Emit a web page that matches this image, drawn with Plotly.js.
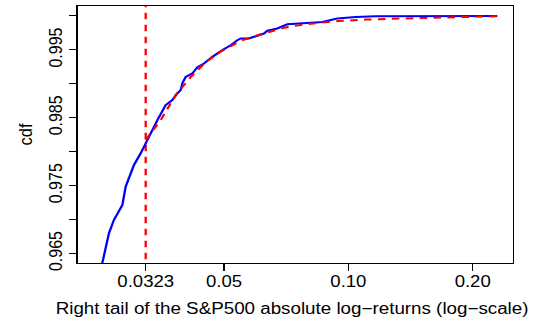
<!DOCTYPE html>
<html>
<head>
<meta charset="utf-8">
<script src="https://cdn.plot.ly/plotly-3.0.1.min.js"></script>
<style>
html,body{margin:0;padding:0;background:#fff;overflow:hidden;}
#wrap{width:537px;height:319px;overflow:hidden;}
#chart{width:463px;height:319px;transform:scaleX(1.15983);transform-origin:0 0;}
</style>
</head>
<body>
<div id="wrap"><div id="chart"></div></div>
<script>
// Empirical cdf of the right tail (blue, solid)
const empX = [0.025147, 0.025373, 0.026323, 0.027066, 0.028363, 0.028890, 0.030258, 0.031408, 0.032297,
  0.033210, 0.034472, 0.036104, 0.037477, 0.038538, 0.039253, 0.039627, 0.040362, 0.041899, 0.043082,
  0.044698, 0.046840, 0.049530, 0.051874, 0.053847, 0.054847, 0.057443, 0.060195, 0.062450, 0.063645,
  0.067290, 0.071151, 0.086500, 0.093990, 0.10415, 0.11645, 0.22946];
const empY = [0.96260, 0.96363, 0.96800, 0.96996, 0.97216, 0.97485, 0.97804, 0.97976, 0.98124,
  0.98294, 0.98466, 0.98687, 0.98760, 0.98859, 0.98907, 0.99006, 0.99103, 0.99153, 0.99246,
  0.99300, 0.99397, 0.99496, 0.99569, 0.99643, 0.99668, 0.99668, 0.99706, 0.99741, 0.99782,
  0.99815, 0.99878, 0.99912, 0.99962, 0.99985, 0.99996, 1.00000];
// Fitted tail cdf above the threshold (red, dashed)
const fitX = [0.0323, 0.035112, 0.038175, 0.041503, 0.045124, 0.049061, 0.054847, 0.061311, 0.071271,
  0.078781, 0.094672, 0.11014, 0.13386, 0.17689, 0.22946];
const fitY = [0.98172, 0.98466, 0.98834, 0.99099, 0.99319, 0.99474, 0.99635, 0.99731, 0.99838,
  0.99878, 0.99926, 0.99947, 0.99962, 0.99976, 0.99996];
// Threshold
const threshold = 0.0323;
const thresholdSpan = [0.95, 1.01];
// Ticks and titles
const xTickVals = [0.0323, 0.05, 0.10, 0.20];
const xTickText = ["0.0323", "0.05", "0.10", "0.20"];
const yTickVals = [0.965, 0.970, 0.975, 0.980, 0.985, 0.990, 0.995, 1.000];
const yTickText = ["0.965", "", "0.975", "", "0.985", "", "0.995", ""];
const xTitle = "Right tail of the S&P500 absolute log\u2212returns (log\u2212scale)";
const yTitle = "cdf";

const font = "Liberation Sans, Arial, Helvetica, sans-serif";
const dash = "6.5px,5.5px";

const traces = [
  {x: [threshold, threshold], y: thresholdSpan, mode: "lines",
   line: {color: "#ff0000", width: 2, dash: dash}, hoverinfo: "skip"},
  {x: empX, y: empY, mode: "lines", line: {color: "#0000ff", width: 2}},
  {x: fitX, y: fitY, mode: "lines", line: {color: "#ff0000", width: 2, dash: dash}}
];

const layout = {
  width: 463, height: 319,
  margin: {l: 66.6, r: 21.3, t: 6, b: 56, pad: 0},
  showlegend: false,
  paper_bgcolor: "#ffffff", plot_bgcolor: "#ffffff",
  font: {family: font, color: "#000", size: 16},
  annotations: [{text: xTitle, xref: "paper", yref: "paper", x: 0.4926, y: -0.1739,
    xanchor: "center", yanchor: "middle", showarrow: false,
    font: {size: 16.2, family: font, color: "#000"}}],
  xaxis: {
    type: "log",
    range: [-1.65545, -0.60218],
    tickvals: xTickVals, ticktext: xTickText,
    ticks: "outside", ticklen: 7, tickwidth: 1, tickcolor: "#000",
    ticklabelstandoff: -3,
    showline: true, linecolor: "#000", linewidth: 1.2, mirror: true,
    showgrid: false, zeroline: false,
    tickfont: {size: 16, family: font}
  },
  yaxis: {
    range: [0.96359, 1.00147],
    tickvals: yTickVals, ticktext: yTickText,
    tickangle: -90,
    ticks: "outside", ticklen: 6, tickwidth: 1, tickcolor: "#000",
    showline: true, linecolor: "#000", linewidth: 1.2, mirror: true,
    showgrid: false, zeroline: false,
    tickfont: {size: 16, family: font},
    title: {text: yTitle, font: {size: 16.5, family: font}, standoff: 7}
  }
};

Plotly.newPlot("chart", traces, layout, {staticPlot: true, displayModeBar: false});
</script>
</body>
</html>
